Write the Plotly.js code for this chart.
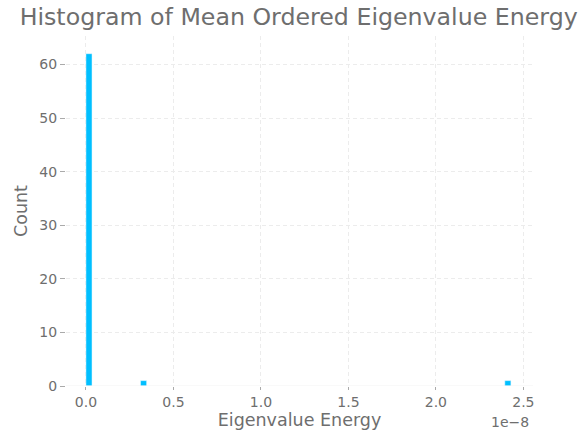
<!DOCTYPE html>
<html>
<head>
<meta charset="utf-8">
<script src="https://cdn.plot.ly/plotly-3.0.1.min.js"></script>
<style>html,body{margin:0;padding:0;background:#fff;}#chart{width:580px;height:434px;}</style>
</head>
<body>
<div id="chart"></div>
<script>
// Histogram bins (left edges, in units of energy) and counts
const binStarts = [0.0, 0.312e-8, 2.394e-8];
const binWidth = 0.0347e-8;
const counts = [62, 1, 1];
const xTickVals = [0, 0.5e-8, 1.0e-8, 1.5e-8, 2.0e-8, 2.5e-8];
const xTickText = ["0.0", "0.5", "1.0", "1.5", "2.0", "2.5"];
const yTickVals = [0, 10, 20, 30, 40, 50, 60];

const textColor = "#6e6e6e";
const gridColor = "#ececec";

const trace = {
  type: "bar",
  x: binStarts.map(v => v + binWidth / 2),
  y: counts,
  width: binStarts.map(() => binWidth),
  marker: {color: "#00bfff", line: {color: "#e8f8ff", width: 0.5}},
  hoverinfo: "x+y"
};

const layout = {
  width: 580, height: 434,
  margin: {l: 66, r: 47, t: 36, b: 48},
  paper_bgcolor: "#fff", plot_bgcolor: "#fff",
  font: {family: "DejaVu Sans", color: textColor},
  showlegend: false,
  bargap: 0,
  title: {text: "Histogram of Mean Ordered Eigenvalue Energy", x: 0.515, xanchor: "center", y: 0.98, yanchor: "top",
          font: {size: 23.7, color: textColor, family: "DejaVu Sans"}},
  xaxis: {
    range: [-0.114e-8, 2.555e-8],
    tickvals: xTickVals, ticktext: xTickText,
    showgrid: true, gridcolor: gridColor, griddash: "4px,3px", gridwidth: 1,
    zeroline: false, showline: false,
    ticks: "outside", ticklen: 3, tickcolor: "#aaa",
    tickfont: {size: 14, color: textColor},
    title: {text: "Eigenvalue Energy", font: {size: 17.5, color: textColor}, standoff: 4}
  },
  yaxis: {
    range: [0, 65.3],
    tickvals: yTickVals,
    showgrid: true, gridcolor: gridColor, griddash: "4px,3px", gridwidth: 1,
    zeroline: false, showline: false,
    ticks: "outside", ticklen: 5, tickcolor: "#aaa",
    tickfont: {size: 14, color: textColor},
    title: {text: "Count", font: {size: 17.5, color: textColor}, standoff: 7}
  },
  shapes: [{type: "line", xref: "paper", yref: "y", x0: 0, x1: 1, y0: 0, y1: 0, line: {color: "#f2f2f2", width: 1}}],
  annotations: [{text: "1e\u22128", xref: "paper", yref: "paper", x: 0.995, y: -0.075, xanchor: "right", yanchor: "top",
                 showarrow: false, font: {size: 14, color: textColor}}]
};

Plotly.newPlot("chart", [trace], layout, {displayModeBar: false, staticPlot: true});
</script>
</body>
</html>
